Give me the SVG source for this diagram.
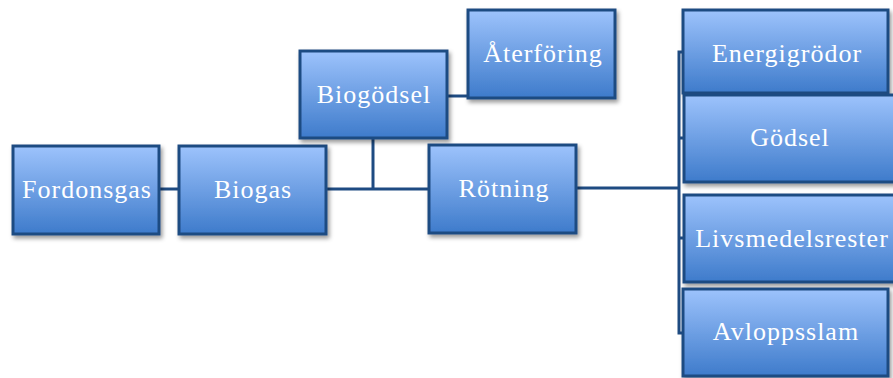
<svg xmlns="http://www.w3.org/2000/svg" width="893" height="378" viewBox="0 0 893 378">
<defs>
<linearGradient id="g" x1="0" y1="0" x2="0" y2="1">
<stop offset="0" stop-color="#9DC3FC"/>
<stop offset="1" stop-color="#3E7BCB"/>
</linearGradient>
<filter id="sh" x="-10%" y="-10%" width="125%" height="130%">
<feDropShadow dx="2" dy="3" stdDeviation="2" flood-color="#000" flood-opacity="0.4"/>
</filter>
<style>
.box{fill:url(#g);stroke:#1E4B82;stroke-width:3;filter:url(#sh)}
.t{fill:#fff;font-family:"Liberation Serif","DejaVu Serif",serif;font-size:26px;letter-spacing:1px;text-anchor:middle}
.c{fill:none;stroke:#1E4B82;stroke-width:3}
</style>
</defs>
<rect width="893" height="378" fill="#fff"/>
<g id="connectors">
<path class="c" d="M159 189H179"/>
<path class="c" d="M326 189H428"/>
<path class="c" d="M373 138V189"/>
<path class="c" d="M447 96H468"/>
<path class="c" d="M576 188H679"/>
<path class="c" d="M683 52H679V333H683"/>
<path class="c" d="M679 138H683M679 238H683"/>
</g>
<g id="fordonsgas"><rect class="box" x="13" y="146" width="146" height="88"/><text class="t" x="87" y="198">Fordonsgas</text></g>
<g id="biogas"><rect class="box" x="179" y="146" width="147" height="88"/><text class="t" x="253" y="198">Biogas</text></g>
<g id="biogodsel"><rect class="box" x="300" y="51" width="147" height="87"/><text class="t" x="374" y="103">Biogödsel</text></g>
<g id="aterforing"><rect class="box" x="468" y="10" width="147" height="88"/><text class="t" x="543" y="62">Återföring</text></g>
<g id="rotning"><rect class="box" x="429" y="145" width="147" height="88"/><text class="t" x="504" y="197">Rötning</text></g>
<g id="energigrodor"><rect class="box" x="683" y="10" width="205" height="83"/><text class="t" x="787" y="62">Energigrödor</text></g>
<g id="godsel"><rect class="box" x="684" y="95" width="215" height="87"/><text class="t" x="790" y="146">Gödsel</text></g>
<g id="livsmedelsrester"><rect class="box" x="684" y="195" width="215" height="87"/><text class="t" x="792" y="247">Livsmedelsrester</text></g>
<g id="avloppsslam"><rect class="box" x="683" y="289" width="205" height="87"/><text class="t" x="786" y="340">Avloppsslam</text></g>
</svg>
